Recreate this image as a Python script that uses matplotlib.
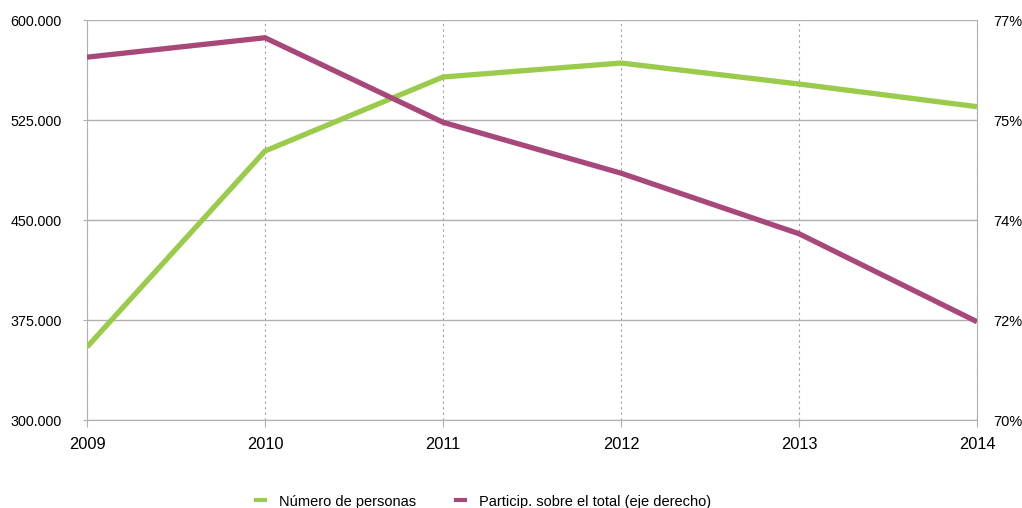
import numpy as np
import matplotlib.pyplot as plt
from matplotlib.ticker import FuncFormatter

plt.rcParams['font.family'] = ['Liberation Sans', 'DejaVu Sans']

years = [2009, 2010, 2011, 2012, 2013, 2014]
personas = [354750, 501750, 557250, 567750, 552000, 535000]
particip = [0.7635, 0.7669, 0.7521, 0.7432, 0.7326, 0.7172]

green = '#9BCB4B'
purple = '#A8487A'
grid_col = '#B0B0B0'

fig = plt.figure(figsize=(10.22, 5.08), dpi=100)
ax = fig.add_axes([0.0851, 0.1732, 0.956 - 0.0851, 0.9606 - 0.1732])
ax2 = ax.twinx()

ax.plot(years, personas, color=green, lw=3.8, solid_capstyle='butt',
        label='Número de personas', zorder=3)
ax2.plot(years, particip, color=purple, lw=3.8, solid_capstyle='butt',
         label='Particip. sobre el total (eje derecho)', zorder=3)

ax.set_xlim(2009, 2014)
ax.set_ylim(300000, 600000)
ax.set_yticks(np.arange(300000, 600001, 75000))
ax.yaxis.set_major_formatter(FuncFormatter(lambda v, p: f'{int(v):,}'.replace(',', '.')))
ax.set_xticks(years)

ax2.set_ylim(0.70, 0.77)
ax2.set_yticks(np.linspace(0.70, 0.77, 5))
ax2.yaxis.set_major_formatter(FuncFormatter(lambda v, p: f'{v*100:.0f}%'))

ax.grid(axis='y', color=grid_col, lw=1, ls='-')
ax.grid(axis='x', color='#A0A0A0', lw=0.8, ls=(0, (2, 3)))
ax.set_axisbelow(True)

for a in (ax, ax2):
    for s in a.spines.values():
        s.set_visible(False)
ax.spines['left'].set_visible(True)
ax.spines['left'].set_color(grid_col)
ax.spines['bottom'].set_visible(True)
ax.spines['bottom'].set_color(grid_col)
ax2.spines['right'].set_visible(True)
ax2.spines['right'].set_color(grid_col)

ax.tick_params(axis='y', length=3, color=grid_col, labelsize=10.3, pad=15)
ax.tick_params(axis='x', length=5, color=grid_col, labelsize=11.8, pad=7)
ax2.tick_params(axis='y', length=0, labelsize=10.5, pad=12)

h1, l1 = ax.get_legend_handles_labels()
h2, l2 = ax2.get_legend_handles_labels()
leg = fig.legend(h1 + h2, l1 + l2, loc='lower center', bbox_to_anchor=(0.472, -0.027),
                 ncol=2, frameon=False, fontsize=10.5, handlelength=0.9,
                 columnspacing=2.6, handletextpad=0.8)
for line in leg.get_lines():
    line.set_linewidth(3)

fig.savefig('out.png', dpi=100)
